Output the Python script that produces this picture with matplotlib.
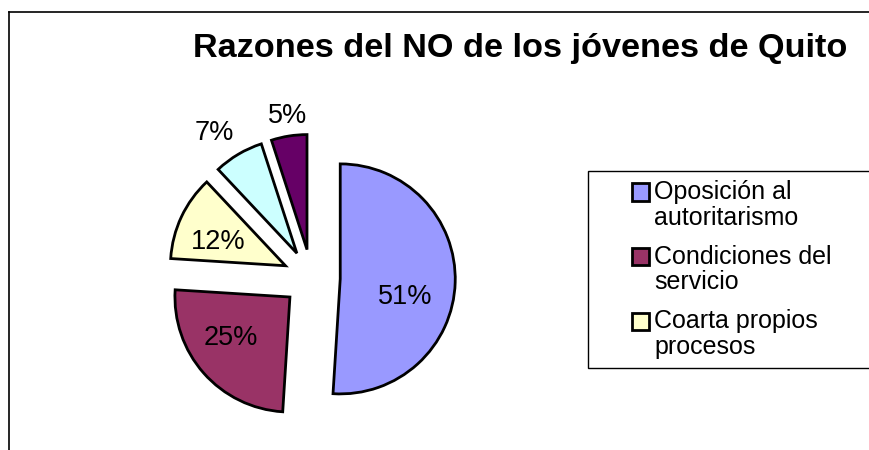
import numpy as np
import matplotlib
matplotlib.use("Agg")
import matplotlib.pyplot as plt
from matplotlib.lines import Line2D
from matplotlib.patches import Rectangle, Wedge
from matplotlib.legend_handler import HandlerPatch

plt.rcParams['font.family'] = ['Liberation Sans', 'DejaVu Sans']

# ---- data ----
title = "Razones del NO de los jóvenes de Quito"
categories = ["Oposición al\nautoritarismo", "Condiciones del\nservicio",
              "Coarta propios\nprocesos", "Otra razón", "Otra razón (2)"]
values = [51, 25, 12, 7, 5]
colors = ["#9999FF", "#993366", "#FFFFCC", "#CCFFFF", "#660066"]
legend_count = 3  # only the first three entries are visible in the clipped legend

# ---- layout (pixels) ----
W, H = 870, 450
cx, cy, R = 311.5, 278.0, 115.0     # pie centre (from top-left) and radius in px
explode = [0.25] * len(values)
label_dist = [0.585, 0.628, 0.622, 1.27, 1.174]
label_rot = [-13.8, -6.8, 5.9, 4.0, -0.7]
LEG_FS = 18
LEG_LS = 1.09


class FirstLineHandler(HandlerPatch):
    """Square legend key aligned with the first line of a two-line label."""
    def __init__(self, shift, **kw):
        super().__init__(**kw)
        self.shift = shift

    def create_artists(self, legend, orig_handle, xdescent, ydescent, width,
                       height, fontsize, trans):
        return super().create_artists(legend, orig_handle, xdescent,
                                      ydescent - self.shift, width, height,
                                      fontsize, trans)


fig = plt.figure(figsize=(W / 100, H / 100), dpi=100)
ax = fig.add_axes([0, 0, 1, 1])
wedges, _ = ax.pie(values, colors=colors, explode=explode, startangle=90,
                   counterclock=False, radius=1.0,
                   wedgeprops=dict(edgecolor="black", linewidth=2.0))
ax.set_xlim(-cx / R, (W - cx) / R)
ax.set_ylim(-(H - cy) / R, cy / R)
ax.set_aspect("auto")
ax.axis("off")

for w, v, d, rot in zip(wedges, values, label_dist, label_rot):
    ang = np.deg2rad((w.theta1 + w.theta2) / 2 + rot)
    x0, y0 = w.center
    ax.text(x0 + d * np.cos(ang), y0 + d * np.sin(ang), f"{v}%",
            ha="center", va="center", fontsize=19.5, color="black")

# title
fig.text(520 / W, 1 - 57 / H, title, ha="center", va="baseline",
         fontsize=24.7, fontweight="bold")

# outer chart frame (top and left edges visible)
fig.add_artist(Line2D([9 / W, 9 / W], [0, 1 - 12 / H], transform=fig.transFigure,
                      color="black", lw=1.2))
fig.add_artist(Line2D([9 / W, 1], [1 - 12 / H, 1 - 12 / H], transform=fig.transFigure,
                      color="black", lw=1.2))

# legend frame (extends past right edge)
fig.add_artist(Rectangle((588 / W, 1 - 368 / H), (W + 20 - 588) / W, (368 - 171) / H,
                         transform=fig.transFigure, facecolor="white",
                         edgecolor="black", lw=1.0, zorder=2))

handler = FirstLineHandler(shift=LEG_LS * LEG_FS / 2)
leg = fig.legend(wedges[:legend_count], categories[:legend_count],
                 loc="upper left", bbox_to_anchor=(632 / W, 1 - 180 / H),
                 bbox_transform=fig.transFigure, frameon=False,
                 fontsize=LEG_FS, borderpad=0, borderaxespad=0,
                 handlelength=0.68, handleheight=0.68, handletextpad=0.2,
                 labelspacing=0.6, handler_map={Wedge: handler})
leg.set_zorder(3)
for t in leg.get_texts():
    t.set_linespacing(LEG_LS)
for h in leg.legend_handles:
    h.set_linewidth(2.0)
    h.set_edgecolor("black")

fig.savefig("out.png", dpi=100)
